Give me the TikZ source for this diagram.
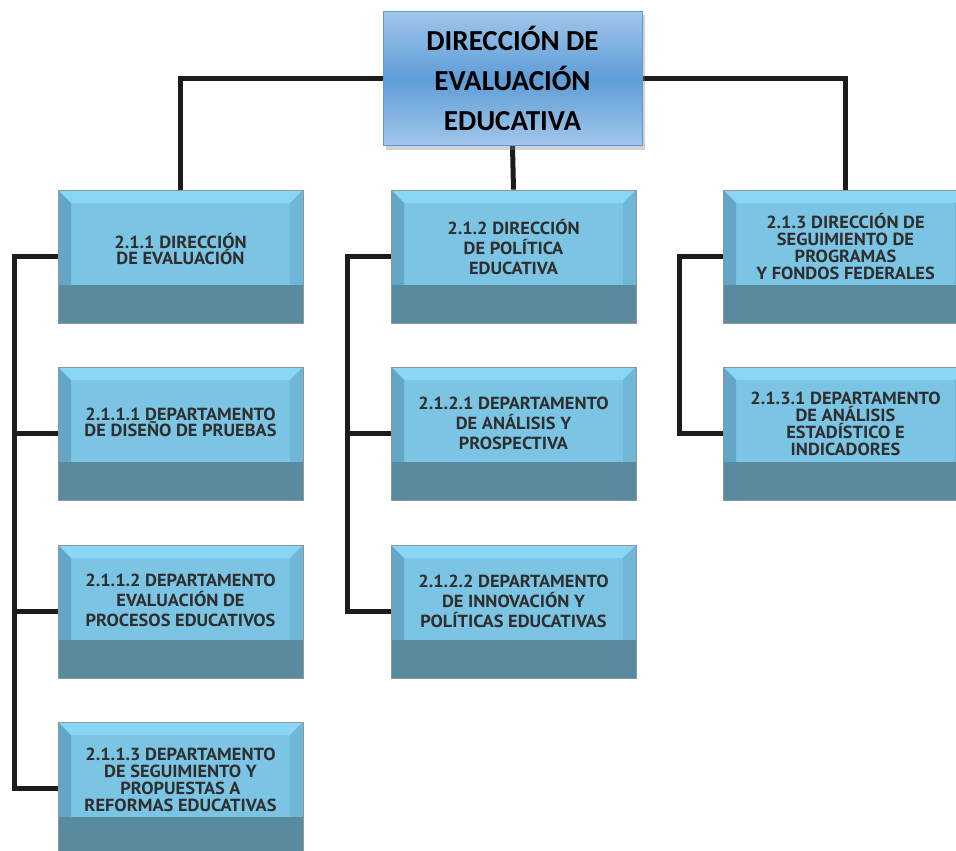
\documentclass[tikz,border=0pt]{standalone}
\usepackage{fontspec}
\usetikzlibrary{shadows,backgrounds}
\newfontfamily\topfont{Carlito}
\newfontfamily\boxfont[FakeStretch=1.05]{PT Sans}
\definecolor{bmain}{HTML}{7CC4E4}
\definecolor{btop}{HTML}{8AD6F5}
\definecolor{bleft}{HTML}{64A6C6}
\definecolor{bright}{HTML}{70B6D6}
\definecolor{bdark}{HTML}{5A8A9D}
\definecolor{bborder}{HTML}{8C979C}
\definecolor{btext}{HTML}{2E2E2E}
\definecolor{tlight}{HTML}{A2C6EA}
\definecolor{tmid}{HTML}{5E9DD8}
\definecolor{tborder}{HTML}{5B9BD5}
\definecolor{conncol}{HTML}{1C1C1C}
\tikzset{
  bevbox/.style={rectangle, minimum width=245pt, minimum height=133pt, inner sep=0pt,
    draw=bborder, line width=0.8pt, fill=bmain,
    path picture={
      \fill[btop] (path picture bounding box.north west) -- (path picture bounding box.north east)
        -- ([xshift=-13pt,yshift=-13pt]path picture bounding box.north east)
        -- ([xshift=13pt,yshift=-13pt]path picture bounding box.north west) -- cycle;
      \fill[bleft] (path picture bounding box.north west)
        -- ([xshift=13pt,yshift=-13pt]path picture bounding box.north west)
        -- ([xshift=13pt,yshift=38pt]path picture bounding box.south west)
        -- ([yshift=38pt]path picture bounding box.south west) -- cycle;
      \fill[bright] (path picture bounding box.north east)
        -- ([xshift=-13pt,yshift=-13pt]path picture bounding box.north east)
        -- ([xshift=-13pt,yshift=38pt]path picture bounding box.south east)
        -- ([yshift=38pt]path picture bounding box.south east) -- cycle;
      \fill[bdark] (path picture bounding box.south west)
        rectangle ([yshift=38pt]path picture bounding box.south east);
    }},
  boxtext/.style={align=center, inner sep=0pt, text=btext,
    font=\boxfont\bfseries\fontsize{17.5}{20}\selectfont},
  tighttext/.style={font=\boxfont\bfseries\fontsize{17.5}{17}\selectfont},
  twotext/.style={font=\boxfont\bfseries\fontsize{17.5}{16}\selectfont},
  topbox/.style={rectangle, minimum width=259pt, minimum height=134pt, inner sep=0pt,
    draw=tborder, line width=1pt, top color=tlight, bottom color=tlight, middle color=tmid,
    align=center, font=\topfont\bfseries\fontsize{29}{40}\selectfont, text=black,
    drop shadow={shadow xshift=3pt, shadow yshift=-4pt, opacity=0.35}},
  conn/.style={draw=conncol, line width=5pt}
}
\begin{document}
\begin{tikzpicture}[x=1pt,y=-1pt]
\clip (0,0) rectangle (956,851);
\useasboundingbox (0,0) rectangle (956,851);

% top box
\node[topbox] (top) at (512.5,78.5) {DIRECCIÓN DE\\EVALUACIÓN\\EDUCATIVA};

% column 1
\node[bevbox] (d211)  at (180.5,256.5) {};
\node[bevbox] (d2111) at (180.5,433.5) {};
\node[bevbox] (d2112) at (180.5,611.5) {};
\node[bevbox] (d2113) at (180.5,788.5) {};
% column 2
\node[bevbox] (d212)  at (513.5,256.5) {};
\node[bevbox] (d2121) at (513.5,433.5) {};
\node[bevbox] (d2122) at (513.5,611.5) {};
% column 3
\node[bevbox] (d213)  at (845.5,256.5) {};
\node[bevbox] (d2131) at (845.5,433.5) {};

% texts
\node[boxtext,twotext] (t211) at ([yshift=-59pt]d211.north) {2.1.1 DIRECCIÓN\\DE EVALUACIÓN};
\node[boxtext,twotext] (t2111) at ([yshift=-56pt]d2111.north) {2.1.1.1 DEPARTAMENTO\\DE DISEÑO DE PRUEBAS};
\node[boxtext] (t2112) at ([yshift=-56pt]d2112.north) {2.1.1.2 DEPARTAMENTO\\EVALUACIÓN DE\\PROCESOS EDUCATIVOS};
\node[boxtext,tighttext] (t2113) at ([yshift=-58pt]d2113.north) {2.1.1.3 DEPARTAMENTO\\DE SEGUIMIENTO Y\\PROPUESTAS A\\REFORMAS EDUCATIVAS};
\node[boxtext] (t212) at ([yshift=-57pt]d212.north) {2.1.2 DIRECCIÓN\\DE POLÍTICA\\EDUCATIVA};
\node[boxtext] (t2121) at ([yshift=-57pt]d2121.north) {2.1.2.1 DEPARTAMENTO\\DE ANÁLISIS Y\\PROSPECTIVA};
\node[boxtext] (t2122) at ([yshift=-57pt]d2122.north) {2.1.2.2 DEPARTAMENTO\\DE INNOVACIÓN Y\\POLÍTICAS EDUCATIVAS};
\node[boxtext,tighttext] (t213) at ([yshift=-57pt]d213.north) {2.1.3 DIRECCIÓN DE\\SEGUIMIENTO DE\\PROGRAMAS\\Y FONDOS FEDERALES};
\node[boxtext,tighttext] (t2131) at ([yshift=-57pt]d2131.north) {2.1.3.1 DEPARTAMENTO\\DE ANÁLISIS\\ESTADÍSTICO E\\INDICADORES};

% connectors
\begin{scope}[on background layer]
\fill[white] (0,0) rectangle (956,851);
\draw[conn] (top.west) -| (d211.north);
\draw[conn] (top.east) -| (d213.north);
\draw[conn] (top.south) -- (d212.north);
% column 1 spine
\draw[conn] (d211.west) -- ++(-43pt,0pt) coordinate (s1) |- (d2113.west);
\draw[conn] (s1 |- d2111.west) -- (d2111.west);
\draw[conn] (s1 |- d2112.west) -- (d2112.west);
% column 2 spine
\draw[conn] (d212.west) -- ++(-43pt,0pt) coordinate (s2) |- (d2122.west);
\draw[conn] (s2 |- d2121.west) -- (d2121.west);
% column 3 spine
\draw[conn] (d213.west) -- ++(-43pt,0pt) coordinate (s3) |- (d2131.west);
\end{scope}
\end{tikzpicture}
\end{document}
